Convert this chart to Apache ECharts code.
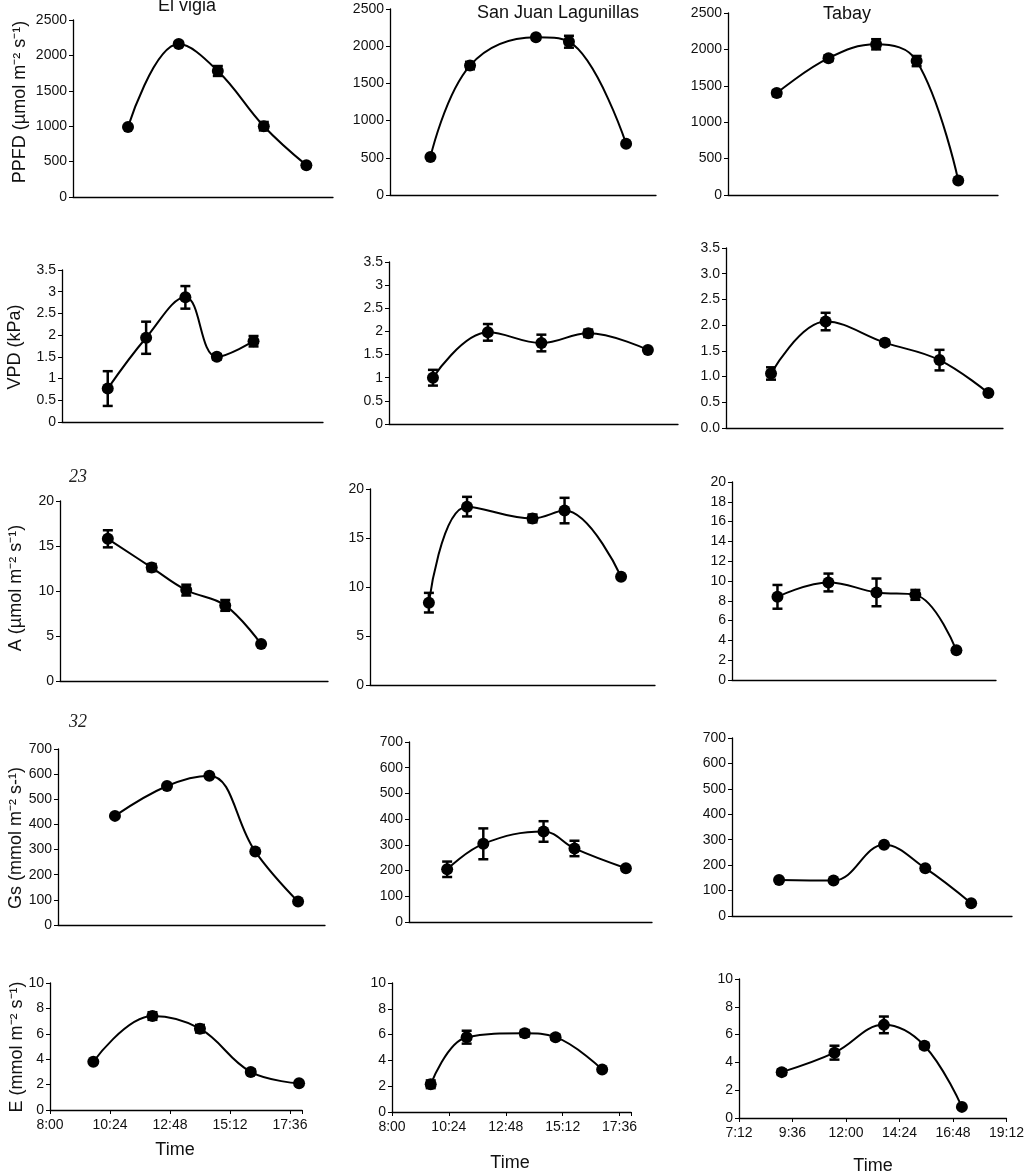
<!DOCTYPE html>
<html><head><meta charset="utf-8">
<script src="https://cdn.jsdelivr.net/npm/echarts@6.0.0/dist/echarts.min.js"></script>
<style>html,body{margin:0;padding:0;background:#fff}#c{width:1027px;height:1174px}</style>
</head><body><div id="c"></div>
<script>
// ---------------- DATA ----------------
const sites = ['El vigia', 'San Juan Lagunillas', 'Tabay'];
const variableNames = ['PPFD (µmol m⁻² s⁻¹)', 'VPD (kPa)', 'A (µmol m⁻² s⁻¹)', 'Gs (mmol m⁻² s-¹)', 'E (mmol m⁻² s⁻¹)'];

// x tick labels per site column (bottom row) and axis end
const xTickLabelsElVigia = ['8:00', '10:24', '12:48', '15:12', '17:36'];
const xTickLabelsSanJuan = ['8:00', '10:24', '12:48', '15:12', '17:36'];
const xTickLabelsTabay = ['7:12', '9:36', '12:00', '14:24', '16:48', '19:12'];
const xAxisEnd = ['18:05', '18:05', '19:12'];

// y tick values per panel row [El vigia, San Juan, Tabay]
const yTicksPPFD = [[0, 500, 1000, 1500, 2000, 2500], [0, 500, 1000, 1500, 2000, 2500], [0, 500, 1000, 1500, 2000, 2500]];
const yTicksVPD = [[0, 0.5, 1, 1.5, 2, 2.5, 3, 3.5], [0, 0.5, 1, 1.5, 2, 2.5, 3, 3.5], [0, 0.5, 1, 1.5, 2, 2.5, 3, 3.5]];
const yTicksA = [[0, 5, 10, 15, 20], [0, 5, 10, 15, 20], [0, 2, 4, 6, 8, 10, 12, 14, 16, 18, 20]];
const yTicksGs = [[0, 100, 200, 300, 400, 500, 600, 700], [0, 100, 200, 300, 400, 500, 600, 700], [0, 100, 200, 300, 400, 500, 600, 700]];
const yTicksE = [[0, 2, 4, 6, 8, 10], [0, 2, 4, 6, 8, 10], [0, 2, 4, 6, 8, 10]];

// PPFD
const ppfdTimes = [['10:08', '12:06', '13:37', '15:24', '17:03'], ['9:32', '11:02', '13:32', '14:47', '16:57'], ['9:22', '11:40', '13:47', '15:35', '17:26']];
const ppfdValues = [[990, 2160, 1780, 1000, 450], [510, 1740, 2120, 2060, 690], [1400, 1880, 2070, 1840, 200]];
const ppfdErrors = [[0, 30, 70, 60, 0], [0, 50, 30, 80, 0], [40, 40, 70, 70, 0]];
// VPD
const vpdTimes = [['9:46', '11:15', '12:46', '13:59', '15:24'], ['9:32', '11:27', '13:19', '14:57', '17:02'], ['9:09', '11:31', '14:05', '16:27', '18:34']];
const vpdValues = [[0.77, 1.94, 2.87, 1.5, 1.86], [1.0, 1.98, 1.75, 1.96, 1.6], [1.06, 2.07, 1.66, 1.32, 0.68]];
const vpdErrors = [[0.4, 0.37, 0.26, 0.06, 0.12], [0.17, 0.18, 0.18, 0.08, 0], [0.12, 0.17, 0.05, 0.2, 0]];
// A
const aTimes = [['9:48', '11:27', '12:45', '14:13', '15:34'], ['10:05', '11:26', '13:45', '14:53', '16:53'], ['9:16', '11:35', '13:46', '15:32', '17:24']];
const aValues = [[15.8, 12.6, 10.1, 8.4, 4.1], [8.4, 18.2, 17.0, 17.8, 11.05], [8.4, 9.85, 8.85, 8.6, 3.0]];
const aErrors = [[0.95, 0.4, 0.6, 0.6, 0], [1.0, 1.0, 0.4, 1.3, 0], [1.2, 0.9, 1.4, 0.5, 0]];
// Gs
const gsTimes = [['10:09', '12:07', '13:43', '15:27', '17:04'], ['9:35', '11:05', '13:35', '14:52', '17:00'], ['9:13', '11:33', '13:43', '15:29', '17:27']];
const gsValues = [[434, 553, 594, 292, 93], [205, 304, 352, 286, 209], [142, 140, 280, 188, 50]];
const gsErrors = [[0, 0, 0, 0, 0], [30, 60, 40, 30, 0], [0, 0, 0, 0, 0]];
// E
const eTimes = [['9:44', '12:06', '14:00', '16:02', '17:58'], ['9:38', '11:09', '13:36', '14:54', '16:52'], ['9:07', '11:29', '13:42', '15:31', '17:12']];
const eValues = [[3.8, 7.4, 6.4, 3.0, 2.1], [2.15, 5.8, 6.1, 5.8, 3.3], [3.3, 4.7, 6.7, 5.2, 0.8]];
const eErrors = [[0, 0.3, 0.3, 0.2, 0], [0.3, 0.5, 0.25, 0.2, 0], [0.2, 0.5, 0.6, 0.2, 0]];

// ---------------- LAYOUT ----------------
const rowsData = [
  [ppfdTimes, ppfdValues, ppfdErrors, yTicksPPFD],
  [vpdTimes, vpdValues, vpdErrors, yTicksVPD],
  [aTimes, aValues, aErrors, yTicksA],
  [gsTimes, gsValues, gsErrors, yTicksGs],
  [eTimes, eValues, eErrors, yTicksE]
];
const xTickLabels = [xTickLabelsElVigia, xTickLabelsSanJuan, xTickLabelsTabay];
const gridBoxes = [
  [[73, 20, 260, 177], [390, 9, 266, 186], [728, 13, 270, 182]],
  [[62, 270, 261, 152], [389, 262, 289, 162], [726, 248, 277, 180]],
  [[60, 501, 268, 180], [370, 489, 285, 196], [732, 482, 264, 198]],
  [[58, 749, 267, 176], [409, 742, 243, 180], [732, 738, 280, 178]],
  [[50, 983, 252, 127], [392, 983, 239, 129], [739, 979, 268, 139]]
];
const FONT = '"Liberation Sans", Arial, sans-serif';

const toMin = s => { const p = s.split(':').map(Number); return p[0] * 60 + p[1]; };
const fmtMin = m => Math.floor(m / 60) + ':' + String(Math.round(m % 60)).padStart(2, '0');

const grid = [], xAxis = [], yAxis = [], series = [];
let idx = 0;
for (let r = 0; r < 5; r++) {
  const [times, vals, errs, yTicks] = rowsData[r];
  for (let c = 0; c < 3; c++) {
    const b = gridBoxes[r][c];
    grid.push({ left: b[0], top: b[1], width: b[2], height: b[3] });
    const ticks = xTickLabels[c].map(toMin);
    const origin = ticks[0];
    const interval = ticks[1] - ticks[0];
    const lastTick = ticks[ticks.length - 1] - origin;
    const bottom = r === 4;
    xAxis.push({
      gridIndex: idx, type: 'value', min: 0, max: toMin(xAxisEnd[c]) - origin, interval: interval,
      axisLine: { show: true, lineStyle: { color: '#000', width: 1.3 } },
      axisTick: { show: bottom, length: 4, lineStyle: { color: '#000' } },
      axisLabel: {
        show: bottom, margin: 8, fontSize: 14, fontFamily: FONT, color: '#111',
        formatter: v => (Math.abs(v / interval - Math.round(v / interval)) < 1e-6 && v <= lastTick + 1e-6) ? fmtMin(v + origin) : ''
      },
      splitLine: { show: false }
    });
    const yt = yTicks[c];
    const decimals = (r === 1 && c === 2);
    yAxis.push({
      gridIndex: idx, type: 'value', min: yt[0], max: yt[yt.length - 1], interval: yt[1] - yt[0],
      axisLine: { show: true, lineStyle: { color: '#000', width: 1.3 } },
      axisTick: { show: true, length: 4, lineStyle: { color: '#000' } },
      axisLabel: { margin: 6, fontSize: 14, fontFamily: FONT, color: '#111',
        formatter: v => decimals ? v.toFixed(1) : String(v) },
      splitLine: { show: false }
    });
    const pts = times[c].map((t, k) => [toMin(t) - origin, vals[c][k]]);
    series.push({
      type: 'line', xAxisIndex: idx, yAxisIndex: idx, data: pts,
      smooth: 0.4, symbol: 'circle', symbolSize: 12,
      itemStyle: { color: '#000' }, lineStyle: { color: '#000', width: 2 },
      z: 3, animation: false
    });
    const ebars = [];
    times[c].forEach((t, k) => {
      if (errs[c][k] > 0) ebars.push([toMin(t) - origin, vals[c][k] - errs[c][k], vals[c][k] + errs[c][k]]);
    });
    series.push({
      type: 'custom', xAxisIndex: idx, yAxisIndex: idx, data: ebars, z: 4, animation: false,
      renderItem: (params, api) => {
        const x = api.value(0);
        const pHi = api.coord([x, api.value(2)]);
        const pLo = api.coord([x, api.value(1)]);
        const w = 5;
        const st = { stroke: '#000', lineWidth: 2.5 };
        return {
          type: 'group', children: [
            { type: 'line', shape: { x1: pHi[0], y1: pHi[1], x2: pLo[0], y2: pLo[1] }, style: st },
            { type: 'line', shape: { x1: pHi[0] - w, y1: pHi[1], x2: pHi[0] + w, y2: pHi[1] }, style: st },
            { type: 'line', shape: { x1: pLo[0] - w, y1: pLo[1], x2: pLo[0] + w, y2: pLo[1] }, style: st }
          ]
        };
      }
    });
    idx++;
  }
}

const graphic = [];
const titlePos = [[187, 6], [558, 13], [847, 14]];
sites.forEach((s, i) => graphic.push({ type: 'text', x: titlePos[i][0], y: titlePos[i][1],
  style: { text: s, font: '18px ' + FONT, fill: '#111', align: 'center', verticalAlign: 'middle' } }));
const namePos = [[20, 102], [15, 347], [16, 588], [16, 838], [17, 1047]];
variableNames.forEach((n, i) => graphic.push({ type: 'text', x: namePos[i][0], y: namePos[i][1], rotation: Math.PI / 2,
  style: { text: n, font: '18px ' + FONT, fill: '#111', align: 'center', verticalAlign: 'middle' } }));
const timePos = [[175, 1150], [510, 1163], [873, 1166]];
timePos.forEach(p => graphic.push({ type: 'text', x: p[0], y: p[1],
  style: { text: 'Time', font: '18px ' + FONT, fill: '#111', align: 'center', verticalAlign: 'middle' } }));
[['23', 78, 477], ['32', 78, 722]].forEach(s => graphic.push({ type: 'text', x: s[1], y: s[2],
  style: { text: s[0], font: 'italic 18px "Liberation Serif", serif', fill: '#222', align: 'center', verticalAlign: 'middle' } }));

const chart = echarts.init(document.getElementById('c'), null, { renderer: 'canvas' });
chart.setOption({ animation: false, backgroundColor: '#fff', grid, xAxis, yAxis, series, graphic });
</script></body></html>
